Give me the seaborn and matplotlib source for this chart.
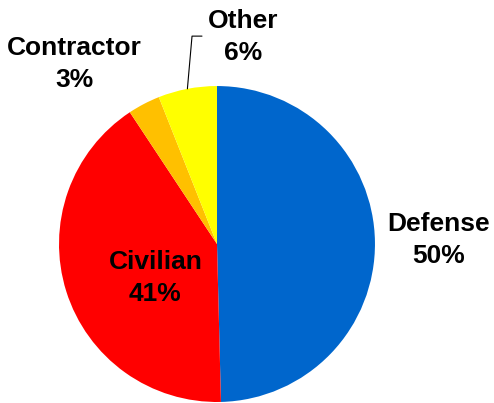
import numpy as np
import seaborn as sns
import matplotlib.pyplot as plt

# data
labels = ['Defense', 'Civilian', 'Contractor', 'Other']
shares = [49.6, 41.1, 3.3, 6.0]
pct_labels = ['50%', '41%', '3%', '6%']
colors = ['#0066CC', '#FF0000', '#FFC000', '#FFFF00']

sns.set_style('white')
plt.rcParams['font.family'] = ['Liberation Sans', 'DejaVu Sans']

fig = plt.figure(figsize=(4.94, 4.03), dpi=100)
ax = fig.add_axes([0.1194, 0.0025, 0.6397, 0.784])

wedges, _ = ax.pie(shares, colors=colors, startangle=90, counterclock=False,
                   radius=1, wedgeprops=dict(linewidth=0))
ax.set_xlim(-1, 1)
ax.set_ylim(-1, 1)
ax.set_aspect('equal')
ax.axis('off')

# label positions (data units, pie radius = 1)
label_pos = {'Defense': (1.40, 0.025), 'Civilian': (-0.39, -0.215),
             'Contractor': (-0.905, 1.14), 'Other': (0.165, 1.31)}

for name, pct in zip(labels, pct_labels):
    x, y = label_pos[name]
    ax.text(x, y, name + '\n' + pct, ha='center', va='center', fontsize=19,
            fontweight='bold', linespacing=1.45, color='black', clip_on=False)

# leader line for "Other"
w = wedges[3]
mid = np.deg2rad((w.theta1 + w.theta2) / 2)
ex, ey = np.cos(mid), np.sin(mid)
ax.plot([ex, -0.158, -0.095], [ey, 1.316, 1.316], color='black', lw=0.8,
        clip_on=False)

fig.savefig('out.png', dpi=100)
